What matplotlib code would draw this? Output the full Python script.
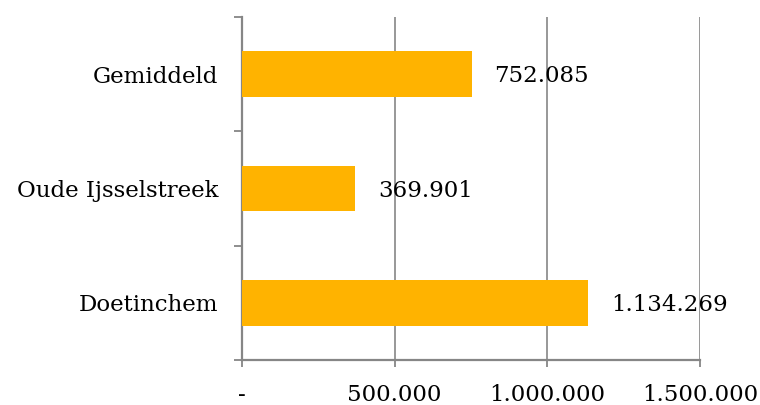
import numpy as np
import matplotlib.pyplot as plt
import matplotlib.ticker as ticker

gemeenten = ["Doetinchem", "Oude Ijsselstreek", "Gemiddeld"]
waarden = [1134269, 369901, 752085]
x_ticks = [0, 500000, 1000000, 1500000]
x_labels = ["-", "500.000", "1.000.000", "1.500.000"]

oranje = "#FFB300"
grijs = "#868686"

plt.rcParams['font.family'] = ['DejaVu Serif']

fig = plt.figure(figsize=(7.6, 4.05), dpi=100)
ax = fig.add_axes([242/760, 1-360/405, (700-242)/760, (360-17)/405])

y = np.arange(len(gemeenten))
ax.barh(y, waarden, height=0.4, color=oranje, zorder=3)

for yi, v in zip(y, waarden):
    label = "{:,}".format(v).replace(",", ".")
    ax.text(v + 75000, yi - 0.02, label, va="center", ha="left", fontsize=16.5,
            color="black", zorder=4)

ax.set_xlim(0, 1500000)
ax.set_ylim(-0.5, len(gemeenten) - 0.5)

ax.set_xticks(x_ticks)
ax.set_xticklabels(x_labels, fontsize=16.5)
ax.set_yticks(y)
ax.set_yticklabels(gemeenten, fontsize=16.5)
ax.yaxis.set_minor_locator(ticker.FixedLocator(np.arange(-0.5, len(gemeenten), 1.0)))

ax.tick_params(axis="y", which="major", length=0, pad=17)
ax.tick_params(axis="y", which="minor", length=5.5, width=1.3, color=grijs)
ax.tick_params(axis="x", which="major", length=5, width=1.3, color=grijs, pad=12)

ax.grid(axis="x", color=grijs, linewidth=1.2, zorder=0)
for s in ["top", "right"]:
    ax.spines[s].set_visible(False)
for s in ["left", "bottom"]:
    ax.spines[s].set_color(grijs)
    ax.spines[s].set_linewidth(1.6)

fig.savefig("out.png", dpi=100)
